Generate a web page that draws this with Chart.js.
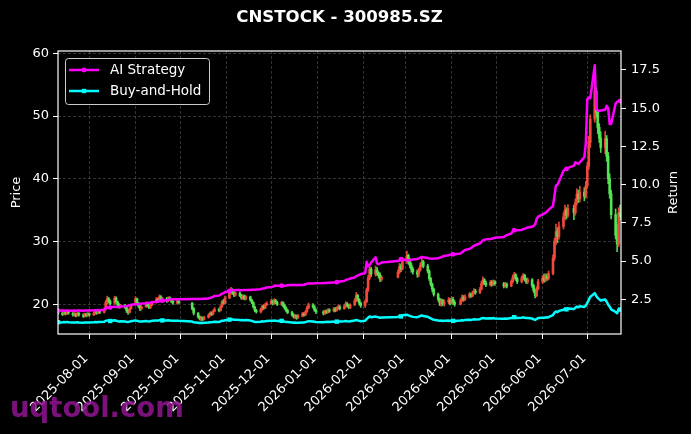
<!DOCTYPE html>
<html>
<head>
<meta charset="utf-8">
<script src="https://cdn.jsdelivr.net/npm/chart.js@4.4.1/dist/chart.umd.min.js"></script>
<style>
  html, body { margin: 0; padding: 0; background: #000; }
  #wrap { width: 691px; height: 434px; position: relative; background: #000; }
</style>
</head>
<body>
<div id="wrap"><canvas id="c" width="691" height="434"></canvas></div>
<script>
// ---------------- DATA ----------------
const chartTitle = 'CNSTOCK - 300985.SZ';
const seriesNames = ['AI Strategy', 'Buy-and-Hold'];
const firstDay = '2025-07-11';
const lastDay = '2026-07-23';
const holidays = ['2025-10-01','2025-10-02','2025-10-03','2025-10-06','2025-10-07','2025-10-08',
  '2026-01-01','2026-01-02','2026-02-16','2026-02-17','2026-02-18','2026-02-19','2026-02-20','2026-02-23',
  '2026-04-06','2026-05-01','2026-05-04','2026-05-05','2026-06-19'];
const tickLabels = ['2025-08-01','2025-09-01','2025-10-01','2025-11-01','2025-12-01','2026-01-01',
  '2026-02-01','2026-03-01','2026-04-01','2026-05-01','2026-06-01','2026-07-01'];
const priceTicks = [20, 30, 40, 50, 60];
const returnTicks = [2.5, 5.0, 7.5, 10.0, 12.5, 15.0, 17.5];

const open = [
 18.9,18.6,18.4,18.7,18.5,18.9,18.6,18.3,18.5,18.2,18.6,18.3,18.1,18.4,18.2,
 18.5,18.3,18.6,18.8,18.6,18.9,18.7,19.2,20.3,20.9,20.5,20.2,21.0,20.4,19.9,19.6,19.8,19.5,19.0,18.7,19.3,
 20.0,20.9,20.2,19.7,19.3,19.6,20.1,19.8,19.5,19.9,20.3,20.8,20.5,21.2,20.7,20.9,20.6,21.0,20.8,20.5,20.2,20.5,
 20.2,19.3,18.6,18.0,17.7,17.9,17.6,17.9,18.3,18.6,18.4,18.9,19.2,19.0,19.6,20.4,20.2,
 21.0,21.8,22.3,21.9,21.5,21.8,21.4,21.0,21.3,20.9,21.2,20.7,20.3,19.6,19.0,18.8,19.2,19.7,19.4,19.9,
 20.1,20.5,20.2,20.6,20.3,20.0,20.3,19.8,19.4,19.0,18.7,18.3,18.0,18.2,17.9,18.1,18.5,18.3,18.8,19.4,19.9,19.6,19.1,
 18.8,18.6,18.9,18.7,19.1,18.9,19.3,19.0,19.4,19.6,19.3,19.7,20.1,19.8,19.5,19.9,20.6,21.4,20.8,20.2,
 19.8,20.4,22.3,24.2,25.6,24.8,25.5,25.0,24.6,24.0,24.3,25.1,26.0,25.6,
 26.9,27.8,26.9,26.2,25.6,25.2,24.8,25.5,26.2,26.8,26.1,25.3,24.1,23.2,22.4,21.6,20.8,20.2,20.6,20.1,20.4,20.7,
 20.2,20.8,20.3,20.0,20.6,21.1,20.8,21.2,21.6,21.3,21.8,22.1,21.9,22.4,23.3,23.9,23.4,23.1,23.5,23.2,23.6,
 23.3,22.9,23.2,22.9,23.6,24.3,24.7,24.1,23.6,24.2,24.6,24.0,23.6,23.9,23.0,22.2,21.4,22.5,
 23.6,24.2,23.8,24.5,24.1,24.9,27.4,30.1,31.6,30.8,32.4,33.9,35.0,34.2,35.3,34.6,36.2,37.6,36.8,37.9,37.2,
 38.9,42.0,45.8,49.5,54.0,50.6,48.2,46.5,45.0,46.4,43.6,40.0,37.6,34.3,31.0,29.6,34.6
];
const high = [
 19.1,18.8,18.9,18.9,19.1,19.0,18.7,18.7,18.6,18.8,18.7,18.5,18.6,18.6,18.7,
 18.6,18.8,19.0,19.0,19.1,19.1,19.4,20.6,21.3,21.1,20.7,21.3,21.2,20.5,20.1,20.0,20.0,19.6,19.2,19.5,20.0,
 21.2,21.0,20.3,19.9,19.8,20.4,20.3,20.0,20.1,20.5,21.1,21.0,21.5,21.4,21.1,21.1,21.2,21.2,21.0,20.7,20.7,20.6,
 20.3,19.5,18.7,18.2,18.1,18.0,18.1,18.5,18.8,18.8,19.1,19.5,19.4,19.8,20.6,20.8,21.3,
 22.1,22.7,22.5,22.1,22.0,22.0,21.6,21.5,21.5,21.4,21.3,20.8,20.4,19.7,19.2,19.4,19.9,19.9,20.2,20.4,
 20.8,20.7,20.9,20.8,20.5,20.5,20.4,20.0,19.6,19.2,18.9,18.5,18.4,18.3,18.4,18.7,18.7,19.0,19.7,20.2,20.1,19.8,19.3,
 19.0,19.1,19.1,19.3,19.3,19.5,19.5,19.6,19.9,19.8,19.9,20.4,20.3,20.0,20.1,20.9,21.9,21.6,20.9,20.4,
 20.7,22.6,24.6,26.2,25.9,26.1,25.9,25.2,25.0,24.6,25.5,26.5,26.4,27.5,
 28.5,28.0,27.3,26.6,25.9,25.5,25.8,26.6,27.4,27.0,26.4,25.5,24.3,23.4,22.6,21.8,21.0,20.9,20.8,20.7,21.1,20.9,
 21.2,21.1,20.6,20.9,21.5,21.4,21.5,21.9,21.8,22.1,22.5,22.4,22.7,23.7,24.4,24.1,23.7,23.8,23.8,23.9,23.8,
 23.5,23.5,23.4,23.9,24.7,25.1,24.9,24.3,24.5,24.9,24.8,24.2,24.2,24.1,23.2,22.4,22.8,24.0,
 24.6,24.8,24.9,24.8,25.3,27.9,30.5,32.8,32.2,33.1,34.6,35.8,35.4,35.9,35.8,36.8,38.4,38.2,38.8,38.6,39.6,
 42.6,46.8,50.2,58.2,54.5,51.0,48.8,47.5,47.6,46.9,44.2,40.8,38.2,35.2,32.8,35.4,35.8
];
const low = [
 18.4,18.2,18.3,18.3,18.4,18.4,18.1,18.1,18.0,18.1,18.1,17.9,18.0,18.0,18.1,
 18.1,18.2,18.4,18.4,18.5,18.5,18.6,19.1,20.0,20.2,19.9,20.0,20.2,19.7,19.4,19.4,19.3,18.7,18.4,18.6,19.2,
 19.9,20.0,19.5,19.0,19.1,19.5,19.6,19.3,19.3,19.8,20.2,20.3,20.4,20.5,20.4,20.3,20.4,20.6,20.3,20.0,20.0,20.1,
 19.1,18.3,17.8,17.5,17.4,17.4,17.5,17.8,18.1,18.2,18.3,18.8,18.8,18.9,19.5,20.0,20.1,
 20.9,21.6,21.6,21.2,21.3,21.2,20.8,20.8,20.7,20.7,20.5,20.1,19.4,18.8,18.6,18.6,19.0,19.2,19.3,19.8,
 20.0,19.9,20.0,20.1,19.8,19.8,19.6,19.2,18.8,18.5,18.1,17.8,17.7,17.6,17.7,18.0,18.1,18.2,18.7,19.3,19.4,18.9,18.5,
 18.3,18.4,18.5,18.6,18.7,18.8,18.8,18.9,19.2,19.1,19.2,19.5,19.6,19.3,19.3,19.8,20.4,20.5,19.9,19.5,
 19.5,20.3,22.0,23.9,24.4,24.5,24.6,24.2,23.6,23.7,24.2,24.9,25.2,25.5,
 26.5,26.4,25.8,25.1,24.8,24.3,24.4,25.3,26.0,25.8,25.0,23.8,22.9,22.0,21.3,20.5,19.8,19.7,19.8,19.7,20.1,19.9,
 20.0,20.0,19.7,19.9,20.4,20.5,20.6,21.0,21.1,21.2,21.6,21.6,21.7,22.3,23.1,23.1,22.8,22.9,22.9,23.0,23.0,
 22.6,22.7,22.6,22.8,23.4,24.0,23.8,23.3,23.4,23.9,23.7,23.3,23.3,22.7,21.9,21.0,21.2,22.3,
 23.3,23.5,23.6,23.8,23.9,24.7,27.0,29.5,29.8,30.4,32.0,33.4,33.6,33.9,33.5,34.2,35.8,36.2,36.3,36.5,36.9,
 38.5,41.5,45.0,49.0,49.8,47.2,45.8,44.2,44.0,42.8,39.2,36.9,33.6,30.4,28.4,29.2,33.4
];
const close = [
 18.6,18.4,18.7,18.5,18.9,18.6,18.3,18.5,18.2,18.6,18.3,18.1,18.4,18.2,18.5,
 18.3,18.6,18.8,18.6,18.9,18.7,19.2,20.3,20.9,20.5,20.1,21.0,20.4,19.9,19.6,19.8,19.5,19.0,18.7,19.3,19.8,
 20.9,20.2,19.7,19.3,19.6,20.1,19.8,19.5,19.9,20.3,20.8,20.5,21.2,20.7,20.9,20.6,21.0,20.8,20.5,20.2,20.5,20.3,
 19.3,18.6,18.0,17.7,17.9,17.6,17.9,18.3,18.6,18.4,18.9,19.2,19.0,19.6,20.4,20.2,21.0,
 21.8,22.3,21.9,21.5,21.8,21.4,21.0,21.3,20.9,21.2,20.7,20.3,19.6,19.0,18.8,19.2,19.7,19.4,19.9,20.1,
 20.5,20.2,20.6,20.3,20.0,20.3,19.8,19.4,19.0,18.7,18.3,18.0,18.2,17.9,18.1,18.5,18.3,18.8,19.4,19.9,19.6,19.1,18.8,
 18.6,18.9,18.7,19.1,18.9,19.3,19.0,19.4,19.6,19.3,19.7,20.1,19.8,19.5,19.9,20.6,21.4,20.8,20.2,19.8,
 20.4,22.3,24.2,25.6,24.8,25.5,25.0,24.6,24.0,24.3,25.1,26.0,25.6,26.9,
 27.8,26.9,26.2,25.6,25.2,24.8,25.5,26.2,26.8,26.1,25.3,24.1,23.2,22.4,21.6,20.8,20.2,20.6,20.1,20.4,20.7,20.2,
 20.8,20.3,20.0,20.6,21.1,20.8,21.2,21.6,21.3,21.8,22.1,21.9,22.4,23.3,23.9,23.4,23.1,23.5,23.2,23.6,23.3,
 22.9,23.2,22.9,23.6,24.3,24.7,24.1,23.6,24.2,24.6,24.0,23.6,23.9,23.0,22.2,21.4,22.5,23.6,
 24.2,23.8,24.5,24.1,24.9,27.4,30.1,31.6,30.8,32.4,33.9,35.0,34.2,35.3,34.6,36.2,37.6,36.8,37.9,37.2,38.9,
 42.0,45.8,49.5,54.0,50.6,48.2,46.5,45.0,46.4,43.6,40.0,37.6,34.3,31.0,29.6,34.6,34.0
];
const aiStrategy = [
 1.75,1.76,1.76,1.75,1.77,1.76,1.75,1.76,1.75,1.76,1.76,1.75,1.76,1.76,1.77,
 1.77,1.78,1.79,1.78,1.80,1.79,1.82,1.92,1.98,1.97,1.96,2.02,2.00,1.99,2.00,2.03,2.05,2.06,2.08,2.12,2.15,
 2.18,2.17,2.17,2.19,2.22,2.24,2.25,2.26,2.28,2.31,2.34,2.35,2.39,2.38,2.41,2.43,2.46,2.49,2.50,2.50,2.51,2.51,
 2.52,2.52,2.52,2.52,2.52,2.53,2.53,2.55,2.60,2.62,2.66,2.72,2.74,2.80,2.88,2.90,2.98,
 3.05,3.10,3.10,3.08,3.10,3.10,3.09,3.10,3.10,3.11,3.11,3.12,3.12,3.13,3.14,3.16,3.20,3.21,3.24,3.27,
 3.30,3.33,3.38,3.40,3.39,3.39,3.38,3.39,3.40,3.42,3.43,3.43,3.43,3.42,3.43,3.44,3.45,3.48,3.52,3.54,3.54,3.55,3.55,
 3.56,3.57,3.57,3.58,3.58,3.60,3.60,3.62,3.65,3.66,3.70,3.76,3.80,3.82,3.86,3.93,4.02,4.05,4.10,4.15,
 4.20,4.95,4.65,4.75,4.90,5.25,4.85,4.80,4.85,4.90,5.00,5.05,5.12,5.10,
 5.05,5.05,5.06,5.08,5.10,5.14,5.18,5.22,5.27,5.25,5.20,5.17,5.16,5.15,5.16,5.18,5.22,5.25,5.30,5.33,5.38,5.42,
 5.43,5.44,5.45,5.50,5.58,5.65,5.72,5.80,5.85,5.92,6.00,6.05,6.15,6.25,6.35,6.40,6.42,6.44,6.46,6.50,6.52,
 6.58,6.64,6.70,6.80,6.95,7.02,7.00,7.02,7.03,7.10,7.12,7.15,7.20,7.25,7.30,7.40,7.75,7.90,
 8.05,8.10,8.15,8.25,8.35,8.60,9.30,9.94,10.00,10.20,10.90,11.00,11.03,11.10,11.24,11.46,11.40,11.35,11.46,11.80,12.70,
 15.60,15.70,15.65,17.80,14.95,14.85,14.82,14.85,14.90,15.15,15.00,13.96,13.96,15.30,15.42,15.47,15.47
];
const buyHold = [
 1.00,0.99,1.01,0.99,1.02,1.00,0.98,0.99,0.98,1.00,0.98,0.97,0.99,0.98,0.99,
 0.98,1.00,1.01,1.00,1.02,1.01,1.03,1.09,1.12,1.10,1.08,1.13,1.10,1.07,1.05,1.06,1.05,1.02,1.01,1.04,1.06,
 1.12,1.09,1.06,1.04,1.05,1.08,1.06,1.05,1.07,1.09,1.12,1.10,1.14,1.11,1.12,1.11,1.13,1.12,1.10,1.09,1.10,1.09,
 1.04,1.00,0.97,0.95,0.96,0.95,0.96,0.98,1.00,0.99,1.02,1.03,1.02,1.05,1.10,1.09,1.13,
 1.17,1.20,1.18,1.16,1.17,1.15,1.13,1.15,1.12,1.14,1.11,1.09,1.05,1.02,1.01,1.03,1.06,1.04,1.07,1.08,
 1.10,1.09,1.11,1.09,1.08,1.09,1.06,1.04,1.02,1.01,0.98,0.97,0.98,0.96,0.97,0.99,0.98,1.01,1.04,1.07,1.05,1.03,1.01,
 1.00,1.02,1.01,1.03,1.02,1.04,1.02,1.04,1.05,1.04,1.06,1.08,1.06,1.05,1.07,1.11,1.15,1.12,1.09,1.06,
 1.10,1.20,1.30,1.38,1.33,1.37,1.34,1.32,1.29,1.31,1.35,1.40,1.38,1.45,
 1.49,1.45,1.41,1.38,1.35,1.33,1.37,1.41,1.44,1.40,1.36,1.30,1.25,1.20,1.16,1.12,1.09,1.11,1.08,1.10,1.11,1.09,
 1.12,1.09,1.08,1.11,1.13,1.12,1.14,1.16,1.15,1.17,1.19,1.18,1.20,1.25,1.28,1.26,1.24,1.26,1.25,1.27,1.25,
 1.23,1.25,1.23,1.27,1.31,1.33,1.30,1.27,1.30,1.32,1.29,1.27,1.28,1.24,1.19,1.15,1.21,1.27,
 1.30,1.28,1.32,1.30,1.34,1.47,1.62,1.70,1.66,1.74,1.82,1.88,1.84,1.90,1.86,1.95,2.02,1.98,2.04,2.00,2.09,
 2.26,2.46,2.66,2.90,2.72,2.59,2.50,2.42,2.49,2.34,2.15,2.02,1.84,1.67,1.59,1.86,1.83
];

// ---------------- BUILD ----------------
const DAY = 86400000;
function parseD(s) { const p = s.split('-').map(Number); return Date.UTC(p[0], p[1] - 1, p[2]); }
const origin = parseD('2025-07-01');
function dayOffset(s) { return (parseD(s) - origin) / DAY; }
function fmt(t) { const d = new Date(t); return d.toISOString().slice(0, 10); }

const tradingDays = [];
for (let t = parseD(firstDay); t <= parseD(lastDay); t += DAY) {
  const wd = new Date(t).getUTCDay();
  const s = fmt(t);
  if (wd === 0 || wd === 6 || holidays.includes(s)) continue;
  tradingDays.push(s);
}
const n = Math.min(tradingDays.length, close.length);
const xs = tradingDays.slice(0, n).map(dayOffset);

const upCol = 'rgba(245,75,60,0.92)';
const dnCol = 'rgba(85,230,85,0.92)';
const candleCols = xs.map((_, i) => close[i] >= open[i] ? upCol : dnCol);
const wickData = xs.map((x, i) => ({ x, y: [low[i], high[i]] }));
const bodyData = xs.map((x, i) => {
  let a = open[i], b = close[i];
  if (Math.abs(a - b) < 0.05) b = a + 0.05;
  return { x, y: [Math.min(a, b), Math.max(a, b)] };
});
const markEvery = 25;
const markR = (r) => xs.map((_, i) => i % markEvery === 0 ? r : 0);

const tickVals = tickLabels.map(dayOffset);
const FONT = 'DejaVu Sans';

const overlay = {
  id: 'overlay',
  afterDraw(chart) {
    const ctx = chart.ctx, a = chart.chartArea;
    ctx.save();
    // frame
    ctx.strokeStyle = '#ffffff'; ctx.lineWidth = 1.2; ctx.setLineDash([]);
    ctx.strokeRect(a.left, a.top, a.right - a.left, a.bottom - a.top);
    // title
    ctx.fillStyle = '#ffffff';
    ctx.font = 'bold 16.6px "' + FONT + '"';
    ctx.textAlign = 'center'; ctx.textBaseline = 'middle';
    ctx.fillText(chartTitle, (a.left + a.right) / 2, 18);
    // axis titles
    ctx.font = '13px "' + FONT + '"';
    const mid = (a.top + a.bottom) / 2;
    ctx.save(); ctx.translate(17, mid); ctx.rotate(-Math.PI / 2); ctx.fillText('Price', 0, 0); ctx.restore();
    ctx.save(); ctx.translate(674, mid); ctx.rotate(-Math.PI / 2); ctx.fillText('Return', 0, 0); ctx.restore();
    // legend
    const lx = 65.5, ly = 58.5, lw = 144, lh = 46;
    ctx.beginPath();
    ctx.roundRect(lx, ly, lw, lh, 3);
    ctx.fillStyle = 'rgba(0,0,0,0.8)'; ctx.fill();
    ctx.strokeStyle = '#cccccc'; ctx.lineWidth = 1; ctx.stroke();
    const items = [
      { name: seriesNames[0], col: '#ff00ff', y: 70, rect: false },
      { name: seriesNames[1], col: '#00ffff', y: 91, rect: true }
    ];
    items.forEach(it => {
      ctx.strokeStyle = it.col; ctx.lineWidth = 2.5; ctx.lineCap = 'butt';
      ctx.beginPath(); ctx.moveTo(69, it.y); ctx.lineTo(99, it.y); ctx.stroke();
      ctx.fillStyle = it.col;
      if (it.rect) { ctx.fillRect(84 - 2.2, it.y - 2.2, 4.4, 4.4); }
      else { ctx.beginPath(); ctx.arc(84, it.y, 2.4, 0, Math.PI * 2); ctx.fill(); }
      ctx.fillStyle = '#ffffff';
      ctx.font = '13.5px "' + FONT + '"';
      ctx.textAlign = 'left'; ctx.textBaseline = 'middle';
      ctx.fillText(it.name, 110, it.y + 0.5);
    });
    // watermark
    ctx.font = 'bold 27.5px "' + FONT + '"';
    ctx.fillStyle = 'rgba(145,20,145,0.85)';
    ctx.textAlign = 'left'; ctx.textBaseline = 'alphabetic';
    ctx.fillText('uqtool.com', 10, 417);
    ctx.restore();
  }
};

Chart.defaults.font.family = FONT;
Chart.defaults.font.size = 13;
Chart.defaults.color = '#ffffff';

new Chart(document.getElementById('c'), {
  type: 'bar',
  data: {
    datasets: [
      { type: 'line', label: seriesNames[0], data: xs.map((x, i) => ({ x, y: aiStrategy[i] })),
        yAxisID: 'y2', borderColor: '#ff00ff', backgroundColor: '#ff00ff', borderWidth: 2.5,
        pointRadius: markR(2.4), pointHoverRadius: 0, pointBorderWidth: 0, pointStyle: 'circle',
        tension: 0, borderJoinStyle: 'round', borderCapStyle: 'round', order: 1 },
      { type: 'line', label: seriesNames[1], data: xs.map((x, i) => ({ x, y: buyHold[i] })),
        yAxisID: 'y2', borderColor: '#00ffff', backgroundColor: '#00ffff', borderWidth: 2.5,
        pointRadius: markR(3.1), pointHoverRadius: 0, pointBorderWidth: 0, pointStyle: 'rect',
        tension: 0, borderJoinStyle: 'round', borderCapStyle: 'round', order: 2 },
      { label: 'wick', data: wickData, yAxisID: 'y', backgroundColor: candleCols,
        barThickness: 1, grouped: false, borderWidth: 0, order: 4 },
      { label: 'body', data: bodyData, yAxisID: 'y', backgroundColor: candleCols,
        barThickness: 2, grouped: false, borderWidth: 0, order: 3 }
    ]
  },
  options: {
    responsive: false,
    animation: false,
    events: [],
    layout: { padding: { top: 51, left: 0, right: 0, bottom: 0 } },
    plugins: { legend: { display: false }, title: { display: false }, tooltip: { enabled: false } },
    scales: {
      x: {
        type: 'linear', min: 10, max: 387.6, offset: false,
        afterBuildTicks: s => { s.ticks = tickVals.map(v => ({ value: v })); },
        afterFit: s => { s.height = 100; },
        ticks: { autoSkip: false, minRotation: 45, maxRotation: 45, padding: 12, labelOffset: -3,
          color: '#ffffff', font: { size: 13 }, callback: (v, i) => tickLabels[i] },
        grid: { offset: false, color: 'rgba(140,140,140,0.45)', lineWidth: 0.8, tickColor: '#ffffff', tickWidth: 1,
          tickLength: 5, tickBorderDash: [], drawTicks: true },
        border: { display: false, dash: [3, 2] }
      },
      y: {
        type: 'linear', position: 'left', min: 15.27, max: 60.37,
        afterBuildTicks: s => { s.ticks = priceTicks.map(v => ({ value: v })); },
        afterFit: s => { s.width = 58; },
        ticks: { padding: 4, color: '#ffffff', font: { size: 13 }, callback: v => String(v) },
        grid: { offset: false, color: 'rgba(140,140,140,0.45)', lineWidth: 0.8, tickColor: '#ffffff', tickWidth: 1,
          tickLength: 5, tickBorderDash: [] },
        border: { display: false, dash: [3, 2] }
      },
      y2: {
        type: 'linear', position: 'right', min: 0.23, max: 18.74,
        afterBuildTicks: s => { s.ticks = returnTicks.map(v => ({ value: v })); },
        afterFit: s => { s.width = 70; },
        ticks: { padding: 5, color: '#ffffff', font: { size: 13 }, callback: v => v.toFixed(1) },
        grid: { offset: false, drawOnChartArea: false, tickColor: '#ffffff', tickWidth: 1, tickLength: 5 },
        border: { display: false }
      }
    }
  },
  plugins: [overlay]
});
</script>
</body>
</html>
